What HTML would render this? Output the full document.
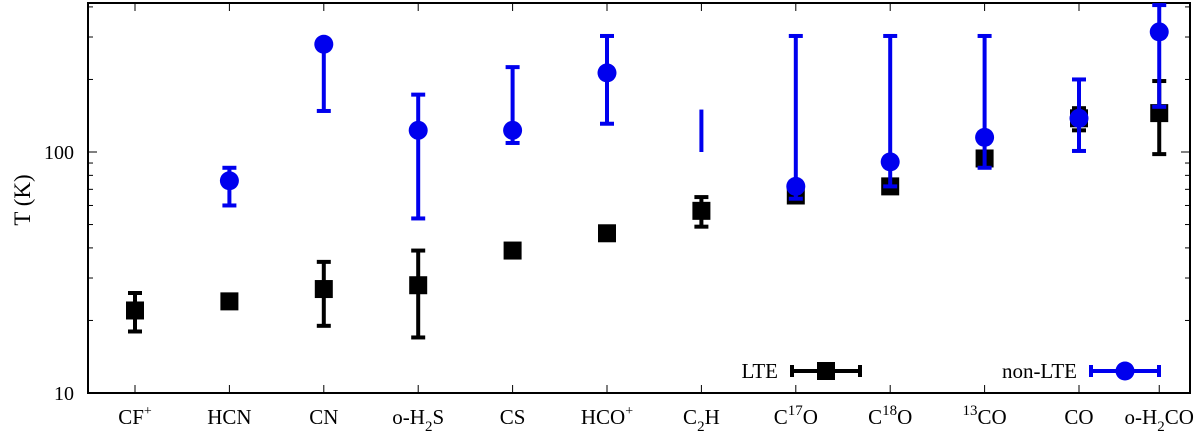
<!DOCTYPE html>
<html><head><meta charset="utf-8"><style>
html,body{margin:0;padding:0;background:#fff;}
svg{display:block;font-family:"Liberation Serif",serif;}
</style></head><body>
<svg id="chart" width="1200" height="435"></svg>
<script>
const categories=["CF+","HCN","CN","o-H2S","CS","HCO+","C2H","C17O","C18O","13CO","CO","o-H2CO"];
const catPos=[0,1,2,3,4,5,6,7,8,9,10,10.85];
const lteVal=[22,24,27,28,39,46,57,66,72,94,138,145];
const lteLo=[18,23,19,17,38,45,49,64,70,90,123,98];
const lteHi=[26,25,35,39,40,47,65,68,74,97,152,197];
const nlteVal=[null,76,280,123,123,213,null,72,91,115,138,315];
const nlteLo=[null,60,148,53,109,131,100,64,72,86,101,154];
const nlteHi=[null,86,280,173,225,303,150,303,303,303,200,407];
const yTicks=[10,100];

const NS="http://www.w3.org/2000/svg";
const svg=document.getElementById('chart');
const L=88,R=1190,T=3,B=393;
const xS=i=>135+94.4*i;
const yS=v=>B-(Math.log10(v)-1)*241;
function mk(tag,attrs,parent){const e=document.createElementNS(NS,tag);for(const k in attrs)e.setAttribute(k,attrs[k]);(parent||svg).appendChild(e);return e;}

for(let d=10;d<=100;d*=10){for(let m=1;m<10;m++){const v=d*m;const y=yS(v);if(y<T)continue;const len=m===1?9:5;
const t1=mk('line',{x1:L,x2:L+len,y1:y,y2:y,stroke:'#000','stroke-width':1});

const t2=mk('line',{x1:R,x2:R-len,y1:y,y2:y,stroke:'#000','stroke-width':1});
}}
yTicks.forEach(v=>{const t=mk('text',{x:L-14,y:yS(v)+7,'text-anchor':'end','font-size':20});t.textContent=v;
});

const labelsHTML=['CF<tspan dy="-9" font-size="14">+</tspan>','HCN','CN','o-H<tspan dy="7" font-size="15">2</tspan><tspan dy="-7">S</tspan>','CS','HCO<tspan dy="-9" font-size="14">+</tspan>','C<tspan dy="7" font-size="15">2</tspan><tspan dy="-7">H</tspan>','C<tspan dy="-9" font-size="15">17</tspan><tspan dy="9">O</tspan>','C<tspan dy="-9" font-size="15">18</tspan><tspan dy="9">O</tspan>','<tspan dy="-9" font-size="15">13</tspan><tspan dy="9">CO</tspan>','CO','o-H<tspan dy="7" font-size="15">2</tspan><tspan dy="-7">CO</tspan>'];
categories.forEach((c,i)=>{const x=xS(catPos[i]);
const a=mk('line',{x1:x,x2:x,y1:B,y2:B-8,stroke:'#000'});
const b=mk('line',{x1:x,x2:x,y1:T,y2:T+8,stroke:'#000'});
const t=mk('text',{x:x,y:424,'text-anchor':'middle','font-size':21});t.innerHTML=labelsHTML[i];
});

const fr=mk('rect',{x:L,y:T,width:R-L,height:B-T,fill:'none',stroke:'#000','stroke-width':2});

const yl=mk('text',{x:30,y:200,'text-anchor':'middle','font-size':23,transform:'rotate(-90 30 200)'});yl.textContent='T (K)';


function errbar(x,lo,hi,col,caps,name){const g=mk('g',{});
mk('line',{x1:x,x2:x,y1:yS(lo),y2:yS(hi),stroke:col,'stroke-width':4},g);
if(caps){[lo,hi].forEach(v=>mk('line',{x1:x-7,x2:x+7,y1:yS(v),y2:yS(v),stroke:col,'stroke-width':4},g));}}
categories.forEach((c,i)=>{const x=xS(catPos[i]);
errbar(x,lteLo[i],lteHi[i],'#000',true,'lte-errorbar');
const s=mk('rect',{x:x-9,y:yS(lteVal[i])-9,width:18,height:18,fill:'#000'});
});
categories.forEach((c,i)=>{const x=xS(catPos[i]);if(nlteLo[i]==null)return;
errbar(x,nlteLo[i],nlteHi[i],'#0000ee',nlteVal[i]!=null,'nonlte-errorbar');
if(nlteVal[i]!=null){const p=mk('circle',{cx:x,cy:yS(nlteVal[i]),r:9.5,fill:'#0000ee'});
}});

function legend(tx,label,x1,x2,col,shape,name){const g=mk('g',{});
const t=mk('text',{x:tx,y:378,'text-anchor':'end','font-size':21},g);t.textContent=label;
const y=371;mk('line',{x1:x1,x2:x2,y1:y,y2:y,stroke:col,'stroke-width':4},g);
[x1,x2].forEach(v=>mk('line',{x1:v,x2:v,y1:y-6,y2:y+6,stroke:col,'stroke-width':4},g));
const cx=(x1+x2)/2;if(shape==='sq')mk('rect',{x:cx-9,y:y-9,width:18,height:18,fill:col},g);else mk('circle',{cx:cx,cy:y,r:9.5,fill:col},g);}
legend(778,'LTE',792,860,'#000','sq','legend-entry-lte');
legend(1077,'non-LTE',1091,1159,'#0000ee','c','legend-entry-nonlte');
</script>
</body></html>
